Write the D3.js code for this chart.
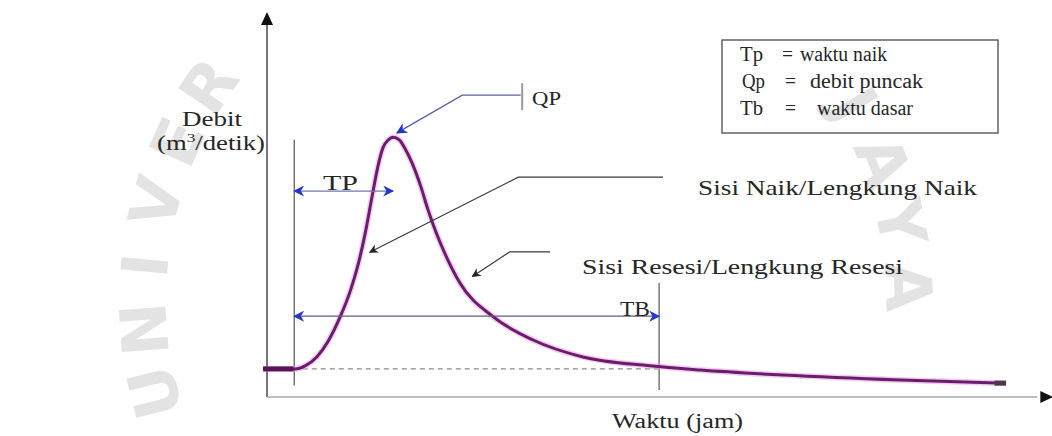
<!DOCTYPE html>
<html><head><meta charset="utf-8">
<script src="https://cdn.jsdelivr.net/npm/d3@7"></script>
<style>
body{margin:0;background:#fff}
svg{display:block}
text{font-family:"Liberation Serif","Times New Roman",serif;fill:#262626}
</style>
</head><body>
<svg id="chart" width="1052" height="436"></svg>
<script>
// ---- data (time in relative units, discharge in relative units) ----
const time = [-0.5, 3.6, 4.9, 6.4, 7.8, 9.4, 10.7, 11.7, 12.6, 13.5, 14.3, 14.9, 15.6, 16.2,
  17.0, 17.7, 18.6, 19.7, 20.7, 21.7, 22.9, 24.8, 29.1, 34.2, 40.6, 49.2, 55.7, 66.3, 81.4, 94.9];
const discharge = [7.3, 7.3, 8.1, 10.4, 14.3, 20.8, 27.5, 34.3, 42.3, 52.0, 60.3, 64.7, 66.8, 67.5,
  66.8, 64.7, 61.0, 55.1, 48.6, 42.9, 37.1, 29.6, 20.8, 14.8, 10.4, 8.1, 7.0, 5.7, 4.4, 3.6];

const baseflow = 7.3;          // dashed base-flow level
const tStart = 3.5;            // start of direct runoff
const tPeak = 16.2;            // time of peak (Tp end)
const qPeak = 67.5;            // peak discharge (Qp)
const tBase = 50.4;            // end of base time (Tb)

const legendKeys = ["Tp", "Qp", "Tb"];
const legendEq = ["=", "=", "="];
const legendDesc = ["waktu naik", "debit puncak", "waktu dasar"];

const axisTitleY = ["Debit", "(m", "3", "/detik)"];
const axisTitleX = "Waktu (jam)";
const labelRise = "Sisi Naik/Lengkung Naik";
const labelRecess = "Sisi Resesi/Lengkung Resesi";
const watermark = "UNIVERSITAS BRAWIJAYA";

// ---- scales ----
const svg = d3.select("#chart");
const x = d3.scaleLinear().domain([0, 100]).range([267, 1045]);
const y = d3.scaleLinear().domain([0, 100]).range([397, 12]);

// ---- watermark (faint, only the part that falls inside the picture) ----
const wm = svg.append("g");
const cx = 526, cy = 300, r = 360;
watermark.split("").forEach((ch, i) => {
  const a = 166 + i * 9.6;
  const rad = a * Math.PI / 180;
  const px = cx + r * Math.cos(rad), py = cy + r * Math.sin(rad);
  if (py < 70 || ch === " ") return;
  wm.append("text")
    .attr("transform", `translate(${px},${py}) rotate(${a + 90})`)
    .attr("text-anchor", "middle")
    .style("font-family", "'DejaVu Sans', sans-serif")
    .style("font-weight", "bold")
    .style("font-size", "64px")
    .style("fill", "#e3e3e3")
    .text(ch);
});

// ---- markers ----
const defs = svg.append("defs");
function marker(id, color, w, h) {
  defs.append("marker").attr("id", id)
    .attr("viewBox", "0 0 10 10").attr("refX", 9).attr("refY", 5)
    .attr("markerUnits", "userSpaceOnUse")
    .attr("markerWidth", w).attr("markerHeight", h)
    .attr("orient", "auto-start-reverse")
    .append("path").attr("d", "M0,0 L10,5 L0,10 L3,5 Z").attr("fill", color);
}
marker("blue", "#2436c8", 12, 11);
marker("black", "#222", 11, 9);

// ---- axes (domain lines only) ----
const yAxis = svg.append("g").attr("transform", `translate(${x(0)},0)`)
  .call(d3.axisLeft(y).tickValues([]).tickSizeOuter(0));
yAxis.select(".domain").attr("stroke", "#4a4a4a").attr("stroke-width", 1.5)
  .attr("d", `M0,${y(0)}V${y(97.5)}`);
const xAxis = svg.append("g").attr("transform", `translate(0,${y(0)})`)
  .call(d3.axisBottom(x).tickValues([]).tickSizeOuter(0));
xAxis.select(".domain").attr("stroke", "#a8a8a8").attr("stroke-width", 1.5)
  .attr("d", `M${x(0)},0H${x(99)}`);
// arrow heads
svg.append("path").attr("fill", "#111")
  .attr("d", `M${x(0)},${y(100)} L${x(0) - 6},${y(96.6)} L${x(0) + 6},${y(96.6)} Z`);
svg.append("path").attr("fill", "#111")
  .attr("d", `M${x(101)},${y(0)} L${x(99.4)},${y(0) - 6} L${x(99.4)},${y(0) + 6} Z`);

// ---- base flow dashed line ----
svg.append("line")
  .attr("x1", x(4.6)).attr("x2", x(tBase)).attr("y1", y(baseflow)).attr("y2", y(baseflow))
  .attr("stroke", "#8a8a8a").attr("stroke-width", 1.3).attr("stroke-dasharray", "5,4");

// ---- vertical reference lines ----
svg.append("line").attr("x1", x(tStart)).attr("x2", x(tStart))
  .attr("y1", y(66.8)).attr("y2", y(3))
  .attr("stroke", "#555").attr("stroke-width", 1.2);
svg.append("line").attr("x1", x(tBase)).attr("x2", x(tBase))
  .attr("y1", y(29.6)).attr("y2", y(1.8))
  .attr("stroke", "#555").attr("stroke-width", 1.2);

// ---- hydrograph curve ----
const pts = time.map((t, i) => [t, discharge[i]]);
const line = d3.line().x(d => x(d[0])).y(d => y(d[1])).curve(d3.curveMonotoneX);
svg.append("path").attr("d", line(pts)).attr("fill", "none")
  .attr("stroke", "#e6a6e6").attr("stroke-width", 6).attr("opacity", 0.55);
svg.append("path").attr("d", line(pts)).attr("fill", "none")
  .attr("stroke", "#6b1d6b").attr("stroke-width", 3);
svg.append("line").attr("x1", x(-0.5)).attr("x2", x(3.4))
  .attr("y1", y(baseflow)).attr("y2", y(baseflow))
  .attr("stroke", "#5a1458").attr("stroke-width", 5);
svg.append("line").attr("x1", x(93.5)).attr("x2", x(95))
  .attr("y1", y(3.6)).attr("y2", y(3.6))
  .attr("stroke", "#4a3a4a").attr("stroke-width", 5);

// ---- TP and TB double arrows ----
svg.append("line").attr("x1", x(tStart)).attr("x2", x(tPeak))
  .attr("y1", y(53.5)).attr("y2", y(53.5))
  .attr("stroke", "#6f76b0").attr("stroke-width", 1.3)
  .attr("marker-start", "url(#blue)").attr("marker-end", "url(#blue)");
svg.append("line").attr("x1", x(tStart)).attr("x2", x(tBase))
  .attr("y1", y(21)).attr("y2", y(21))
  .attr("stroke", "#5a5f80").attr("stroke-width", 1.3)
  .attr("marker-start", "url(#blue)").attr("marker-end", "url(#blue)");

// ---- QP leader ----
svg.append("path")
  .attr("d", `M${x(32.6)},${y(78.4)} L${x(25.1)},${y(78.4)} L${x(16.7)},${y(68.6)}`)
  .attr("fill", "none").attr("stroke", "#5560a8").attr("stroke-width", 1.3)
  .attr("marker-end", "url(#blue)");
svg.append("line").attr("x1", x(32.8)).attr("x2", x(32.8))
  .attr("y1", y(81.5)).attr("y2", y(74.5))
  .attr("stroke", "#9a9a9a").attr("stroke-width", 2);

// ---- rising limb leader ----
svg.append("path")
  .attr("d", `M${x(50.9)},${y(57.1)} L${x(32.3)},${y(57.1)} L${x(13.2)},${y(37.6)}`)
  .attr("fill", "none").attr("stroke", "#3a3a3a").attr("stroke-width", 1.2)
  .attr("marker-end", "url(#black)");
// ---- recession leader ----
svg.append("path")
  .attr("d", `M${x(36.4)},${y(37.7)} L${x(31.2)},${y(37.7)} L${x(26.4)},${y(31.3)}`)
  .attr("fill", "none").attr("stroke", "#3a3a3a").attr("stroke-width", 1.2)
  .attr("marker-end", "url(#black)");

// ---- texts ----
function label(txt, x0, yb, w, size) {
  return svg.append("text").attr("x", x0).attr("y", yb)
    .attr("textLength", w).attr("lengthAdjust", "spacingAndGlyphs")
    .style("font-size", size + "px").text(txt);
}
label(axisTitleY[0], 182, 126, 60, 20);
const yt = svg.append("text").attr("x", 157).attr("y", 150)
  .attr("textLength", 108).attr("lengthAdjust", "spacingAndGlyphs")
  .style("font-size", "20px");
yt.append("tspan").text(axisTitleY[1]);
yt.append("tspan").attr("dy", -8).style("font-size", "13px").text(axisTitleY[2]);
yt.append("tspan").attr("dy", 8).text(axisTitleY[3]);

label("TP", 323, 190, 35, 21);
label("TB", 620, 316, 30, 20);
label("QP", 532, 105, 29, 19);
label(labelRise, 698, 195, 279, 21);
label(labelRecess, 582, 274, 321, 21);
label(axisTitleX, 612, 428, 131, 20);

// ---- legend box ----
svg.append("rect").attr("x", 722).attr("y", 40).attr("width", 276).attr("height", 93)
  .attr("fill", "none").attr("stroke", "#4a4a4a").attr("stroke-width", 1.3);
const rowsY = [61, 88, 115];
const keyX = [740, 742, 740], eqX = [782, 785, 785], descX = [800, 810, 817];
const descW = [87, 113, 96];
legendKeys.forEach((k, i) => {
  label(k, keyX[i], rowsY[i], 23, 20);
  label(legendEq[i], eqX[i], rowsY[i], 11, 20);
  label(legendDesc[i], descX[i], rowsY[i], descW[i], 20);
});
</script>
</body></html>
